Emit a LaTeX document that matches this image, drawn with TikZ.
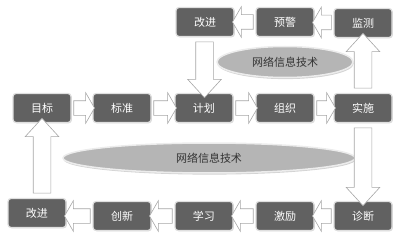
\documentclass[tikz,border=0pt]{standalone}
\usepackage{fontspec}
\newfontfamily\cjk{Noto Sans CJK SC}
\usetikzlibrary{shapes,arrows.meta,positioning,calc,shadows,backgrounds}

% block arrow laid between two points
\newcommand{\blockarrow}[4]{%
  \path let \p1=($(#2)-(#1)$), \n1={veclen(\x1,\y1)} in
    ($(#1)!0.5!(#2)$) node[#4, minimum height=\n1, rotate=#3] {};}

\tikzset{
  box/.style={draw=gray!25, line width=1.2pt, fill=black!62, rounded corners=3pt,
    minimum width=58pt, minimum height=29pt, text=white,
    font=\cjk\fontsize{11}{13}\selectfont,
    drop shadow={opacity=0.3, shadow xshift=0.8pt, shadow yshift=-0.8pt}},
  oval/.style={ellipse, draw=gray!15, line width=1.5pt, fill=gray!58, text=black!80,
    font=\cjk\fontsize{11}{13}\selectfont, inner sep=0pt,
    drop shadow={opacity=0.35, shadow xshift=0.6pt, shadow yshift=-1.6pt}},
  harrow/.style={single arrow, draw=gray!70, fill=white, line width=0.6pt,
    inner xsep=0pt, inner ysep=7pt, single arrow head extend=8pt,
    single arrow tip angle=120, single arrow head indent=0pt},
  varrow/.style={single arrow, draw=gray!70, fill=white, line width=0.6pt,
    inner xsep=0pt, inner ysep=8.5pt, single arrow head extend=8pt,
    single arrow tip angle=85, single arrow head indent=0pt}
}

\begin{document}
\begin{tikzpicture}[x=1pt,y=1pt]
\useasboundingbox (0,0) rectangle (400,239);

% top row
\node[box] (improveA) at (205,217) {改进};
\node[box] (warn) at (285,217) {预警};
\node[box] (monitor) at (363,216) {监测};

% middle row
\node[box] (goal) at (42,131) {目标};
\node[box] (standard) at (122,131) {标准};
\node[box] (plan) at (204,131) {计划};
\node[box] (organize) at (285,131) {组织};
\node[box] (implement) at (363,131) {实施};

% bottom row
\node[box] (improveB) at (37,26) {改进};
\node[box] (innovate) at (122,23) {创新};
\node[box] (learn) at (204,23) {学习};
\node[box] (motivate) at (285,23) {激励};
\node[box] (diagnose) at (363,23) {诊断};

% ellipses
\node[oval, minimum width=136pt, minimum height=31pt] (netA) at (285,177) {网络信息技术};
\node[oval, minimum width=292pt, minimum height=30pt] (netB) at (209,81) {网络信息技术};

% horizontal arrows
\blockarrow{goal.east}{standard.west}{0}{harrow}
\blockarrow{standard.east}{plan.west}{0}{harrow}
\blockarrow{plan.east}{organize.west}{0}{harrow}
\blockarrow{organize.east}{implement.west}{0}{harrow}
\blockarrow{monitor.west}{warn.east}{180}{harrow}
\blockarrow{warn.west}{improveA.east}{180}{harrow}
\blockarrow{diagnose.west}{motivate.east}{180}{harrow}
\blockarrow{motivate.west}{learn.east}{180}{harrow}
\blockarrow{learn.west}{innovate.east}{180}{harrow}
\blockarrow{innovate.west}{improveB.east |- innovate.west}{180}{harrow}

% vertical arrows
\blockarrow{improveA.south}{plan.north}{270}{varrow}
\blockarrow{implement.north}{monitor.south}{90}{varrow}
\blockarrow{implement.south}{diagnose.north}{270}{varrow}
\blockarrow{goal.south |- improveB.north}{goal.south}{90}{varrow}
\end{tikzpicture}
\end{document}
